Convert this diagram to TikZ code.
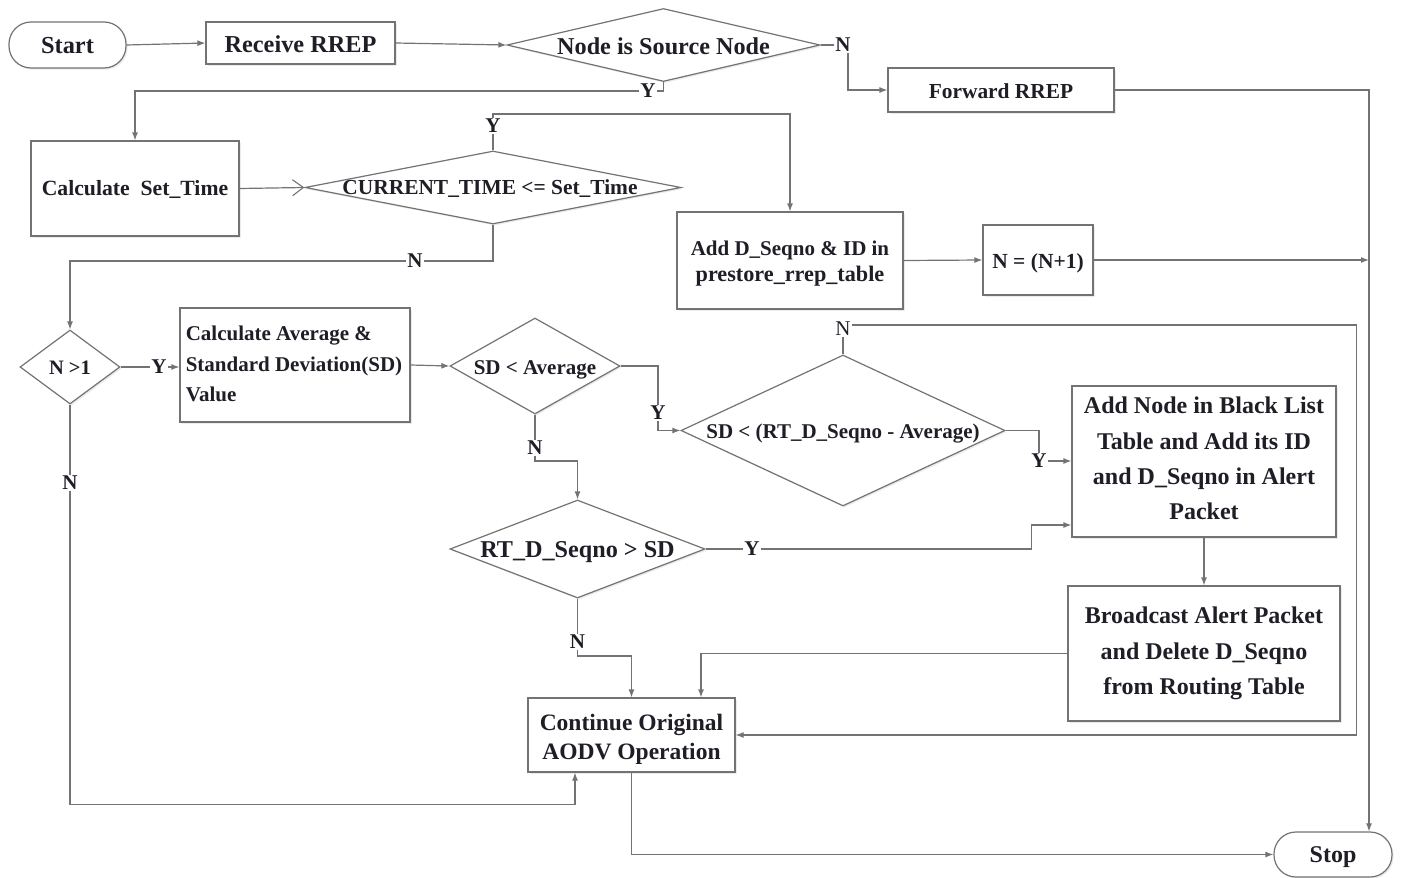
\documentclass[tikz,border=0pt]{standalone}
\usepackage{fontspec}
\setmainfont{Liberation Serif}
\usetikzlibrary{shapes.geometric,arrows.meta,shadows}

\definecolor{edge}{RGB}{115,115,115}
\definecolor{ink}{RGB}{30,30,38}

\tikzset{
  shape base/.style={draw=edge, line width=1.2pt, fill=white, inner sep=0pt,
    drop shadow={opacity=0.16, shadow xshift=1.6pt, shadow yshift=-1.6pt}},
  procbox/.style={shape base, rectangle},
  termnode/.style={shape base, rectangle, rounded corners=22pt},
  decnode/.style={shape base, diamond},
  txt/.style={inner sep=0pt, text=ink},
  fsz/.style args={#1/#2}{font=\fontsize{#1pt}{#2pt}\selectfont\bfseries},
  lblnode/.style={inner sep=1pt, text=ink, font=\fontsize{21pt}{22pt}\selectfont\bfseries},
  wire/.style={draw=edge, line width=1.2pt},
  arrw/.style={wire, -{Latex[length=8pt,width=6pt]}},
  openarr/.style={wire, -{Straight Barb[length=11pt,width=16pt,line width=1.1pt]}},
}

\begin{document}
\begin{tikzpicture}[x=1pt,y=-1pt]
\useasboundingbox (0,0) rectangle (1401,878);

% ---- terminals and process boxes ----
\node[termnode, minimum width=117pt, minimum height=46pt] (start) at (67.5,45) {};
\node[txt, fsz=24.4/24] (start-t) at ([yshift=-1pt]start.center) {Start};
\node[procbox, minimum width=189pt, minimum height=42pt] (recv) at (300.5,43) {};
\node[txt, fsz=24.3/24] (recv-t) at ([yshift=-1pt]recv.center) {Receive RREP};
\node[procbox, minimum width=226pt, minimum height=44pt] (fwd) at (1001,90) {};
\node[txt, fsz=21.4/22] (fwd-t) at ([yshift=-1pt]fwd.center) {Forward RREP};
\node[procbox, minimum width=208pt, minimum height=95pt] (calcT) at (135,188.5) {};
\node[txt, fsz=21.7/22] (calcT-t) at ([yshift=-1pt]calcT.center) {Calculate\ \ Set\_Time};
\node[procbox, minimum width=226pt, minimum height=97pt] (addD) at (790,260.5) {};
\node[txt, fsz=21/26, align=center] (addD-t) at ([yshift=-3pt]addD.center)
  {Add D\_Seqno \& ID in\\{\fontsize{22.2pt}{26pt}\selectfont prestore\_rrep\_table}};
\node[procbox, minimum width=110pt, minimum height=70pt] (nn) at (1038,260) {};
\node[txt, fsz=21.5/22] (nn-t) at ([yshift=-3pt]nn.center) {N = (N+1)};
\node[procbox, minimum width=230pt, minimum height=114pt] (calcA) at (295,365) {};
\node[txt, fsz=21/30.5, align=left] (calcA-t) at ([xshift=-1pt,yshift=1pt]calcA.center)
  {Calculate Average \&\\Standard Deviation(SD)\\Value};
\node[procbox, minimum width=264pt, minimum height=151pt] (addN) at (1204,461.5) {};
\node[txt, fsz=24/35.3, align=center] (addN-t) at ([yshift=3pt]addN.center)
  {Add Node in Black List\\Table and Add its ID\\and D\_Seqno in Alert\\Packet};
\node[procbox, minimum width=272pt, minimum height=135pt] (bcast) at (1204,653.5) {};
\node[txt, fsz=24/35.5, align=center] (bcast-t) at (bcast.center)
  {Broadcast Alert Packet\\and Delete D\_Seqno\\from Routing Table};
\node[procbox, minimum width=207pt, minimum height=74pt] (cont) at (631.5,735) {};
\node[txt, fsz=23.5/29.5, align=center] (cont-t) at ([yshift=-4.5pt]cont.center)
  {Continue Original\\AODV Operation};
\node[termnode, minimum width=118pt, minimum height=45pt] (stop) at (1333,854.5) {};
\node[txt, fsz=24/24] (stop-t) at ([yshift=-3pt]stop.center) {Stop};

% ---- decisions ----
\node[decnode, minimum width=313pt, minimum height=73pt] (src) at (663.5,45) {};
\node[txt, fsz=24.2/24] (src-t) at ([yshift=-1pt]src.center) {Node is Source Node};
\node[decnode, minimum width=376pt, minimum height=73pt] (cur) at (493,187.5) {};
\node[txt, fsz=21.4/22] (cur-t) at ([xshift=-3pt,yshift=-1pt]cur.center) {CURRENT\_TIME <= Set\_Time};
\node[decnode, minimum width=100pt, minimum height=74pt] (ngt) at (70,367) {};
\node[txt, fsz=20.5/22] (ngt-t) at ([yshift=-1pt]ngt.center) {N >1};
\node[decnode, minimum width=170pt, minimum height=96pt] (sdavg) at (535,366) {};
\node[txt, fsz=21/22] (sdavg-t) at ([yshift=-4pt]sdavg.center) {SD < Average};
\node[decnode, minimum width=324pt, minimum height=151pt] (sdr) at (843,430.5) {};
\node[txt, fsz=21/22] (sdr-t) at ([yshift=-3pt]sdr.center) {SD < (RT\_D\_Seqno - Average)};
\node[decnode, minimum width=255pt, minimum height=98pt] (rts) at (577.5,549) {};
\node[txt, fsz=24.2/24] (rts-t) at ([yshift=-3pt]rts.center) {RT\_D\_Seqno > SD};

% ---- branch labels ----
\node[lblnode] (n1) at (843,45) {N};
\node[lblnode] (y1) at (648,91) {Y};
\node[lblnode] (y2) at (493,126) {Y};
\node[lblnode] (n2) at (415,261) {N};
\node[lblnode] (y3) at (159,367) {Y};
\node[lblnode] (n3) at (70,483) {N};
\node[lblnode] (y4) at (658,413) {Y};
\node[lblnode] (n4) at (535,448) {N};
\node[lblnode, font=\fontsize{21pt}{22pt}\selectfont] (n5) at (843,329) {N};
\node[lblnode] (y5) at (1039,461) {Y};
\node[lblnode] (y6) at (752,549) {Y};
\node[lblnode] (n6) at (577.5,642) {N};

% ---- helper points for the long return lines ----
\path (stop.north) ++(36pt,0) coordinate (railbot);
\coordinate (railtop) at (railbot |- fwd.east);
\path (bcast.east) ++(16pt,0) coordinate (loopx);
\path (cont.south) ++(-56.5pt,0) coordinate (contin);

% ---- connectors ----
\draw[arrw] (start.east) -- (recv.west);
\draw[arrw] (recv.east) -- (src.west);
\draw[wire] (src.east) -- (n1.west);
\draw[arrw] ([xshift=5pt]n1.south) |- (fwd.west);
\draw[wire] (src.south) |- (y1.east);
\draw[arrw] (y1.west) -| (calcT.north);
\draw[arrw] (fwd.east) -- (railtop) -- (railbot);

\draw[openarr] (calcT.east) -- (cur.west);
\draw[wire] (cur.north) -- (y2.south);
\draw[arrw] (y2.north) -- ++(0,-4) -| (addD.north);
\draw[wire] (cur.south) |- (n2.east);
\draw[arrw] (n2.west) -| (ngt.north);
\draw[arrw] (addD.east) -- (nn.west);
\draw[arrw] (nn.east) -- (nn.east -| railtop);

\draw[wire] (ngt.east) -- (y3.west);
\draw[arrw] (y3.east) -- (calcA.west |- y3.east);
\draw[wire] (ngt.south) -- (n3.north);
\draw[arrw] (n3.south) |- ([yshift=-32pt]contin) -- (contin);

\draw[arrw] (calcA.east) -- (sdavg.west);
\draw[wire] (sdavg.east) -| (y4.north);
\draw[arrw] (y4.south) |- (sdr.west);
\draw[wire] (sdavg.south) -- (n4.north);
\draw[arrw] (n4.south) -- ++(0,5) -| (rts.north);

\draw[wire] (sdr.north) -- (n5.south);
\draw[arrw] ([yshift=4pt]n5.east) -| (loopx |- cont.east) -- (cont.east);
\draw[wire] (sdr.east) -| (y5.north);
\draw[arrw] (y5.east) -- (addN.west |- y5.east);

\draw[wire] (rts.east) -- (y6.west);
\draw[arrw] (y6.east) -| ([xshift=-40pt,yshift=-63.5pt]addN.west) -- ([yshift=-63.5pt]addN.west);
\draw[wire] (rts.south) -- (n6.north);
\draw[arrw] (n6.south) -- ++(0,6) -| (cont.north);

\draw[arrw] (addN.south) -- (bcast.north);
\draw[arrw] (bcast.west) -| ([xshift=69.5pt]cont.north);
\draw[arrw] (cont.south) |- (stop.west);
\end{tikzpicture}
\end{document}
